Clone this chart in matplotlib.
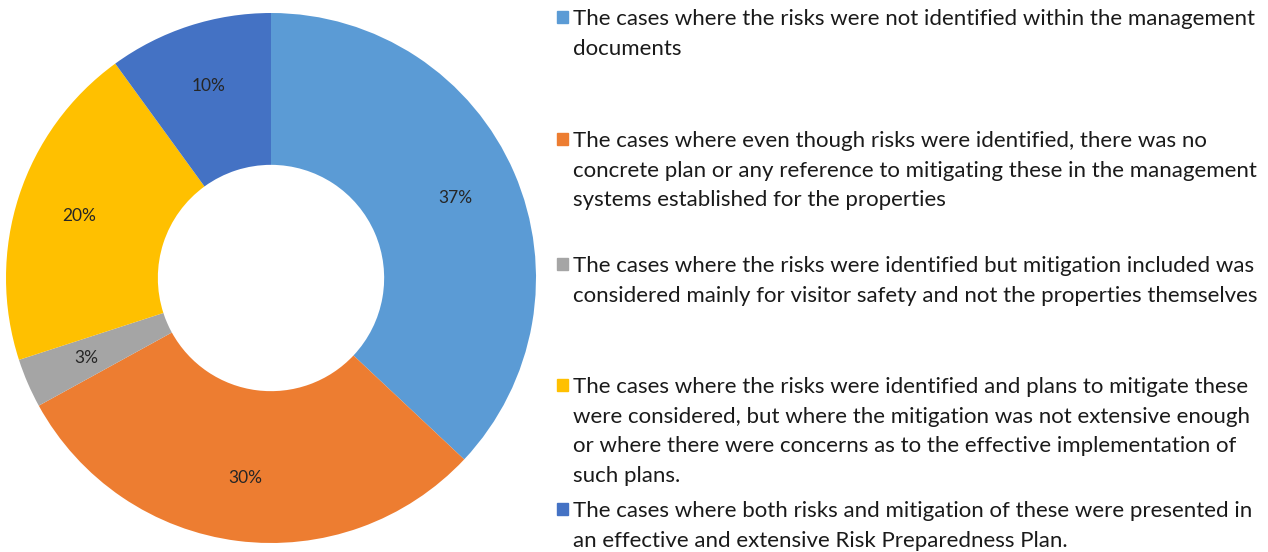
import matplotlib
matplotlib.use('Agg')
import matplotlib.pyplot as plt
from matplotlib.patches import Rectangle

# dados do gráfico (percentuais)
valores = [37, 30, 3, 20, 10]
rotulos = ['37%', '30%', '3%', '20%', '10%']
cores = ['#5B9BD5', '#ED7D31', '#A5A5A5', '#FFC000', '#4472C4']
legendas = [
    'The cases where the risks were not identified within the management\ndocuments',
    'The cases where even though risks were identified, there was no\nconcrete plan or any reference to mitigating these in the management\nsystems established for the properties',
    'The cases where the risks were identified but mitigation included was\nconsidered mainly for visitor safety and not the properties themselves',
    'The cases where the risks were identified and plans to mitigate these\nwere considered, but where the mitigation was not extensive enough\nor where there were concerns as to the effective implementation of\nsuch plans.',
    'The cases where both risks and mitigation of these were presented in\nan effective and extensive Risk Preparedness Plan.',
]

plt.rcParams['font.family'] = ['Lato', 'DejaVu Sans']

W, H = 1268, 552
fig = plt.figure(figsize=(W / 100, H / 100), dpi=100)

# rosca: centro (271, 278), raio externo 265 px
cx, cy, r = 271, 278, 265
ax = fig.add_axes([(cx - r) / W, 1 - (cy + r) / H, 2 * r / W, 2 * r / H])
fatias, textos = ax.pie(valores, colors=cores, startangle=90, counterclock=False,
                        wedgeprops=dict(width=0.573, edgecolor='none'),
                        labels=rotulos, labeldistance=0.76,
                        textprops=dict(fontsize=12.5, color='#262626', ha='center', va='center'))
ax.set_xlim(-1, 1)
ax.set_ylim(-1, 1)
ax.set_aspect('equal')
ax.axis('off')

# legenda manual (espaçamento fixo entre entradas, como no Excel)
topos = [17, 139, 264, 385, 509]
for fatia, texto, y in zip(fatias, legendas, topos):
    fig.patches.append(Rectangle((557 / W, 1 - (y + 6) / H), 11 / W, 12 / H,
                                 transform=fig.transFigure, color=fatia.get_facecolor(),
                                 figure=fig))
    fig.text(573 / W, 1 - (y - 8) / H, texto, fontsize=16, color='#1a1a1a',
             va='top', ha='left', linespacing=1.6)

plt.savefig('out.png', dpi=100)
plt.close()
